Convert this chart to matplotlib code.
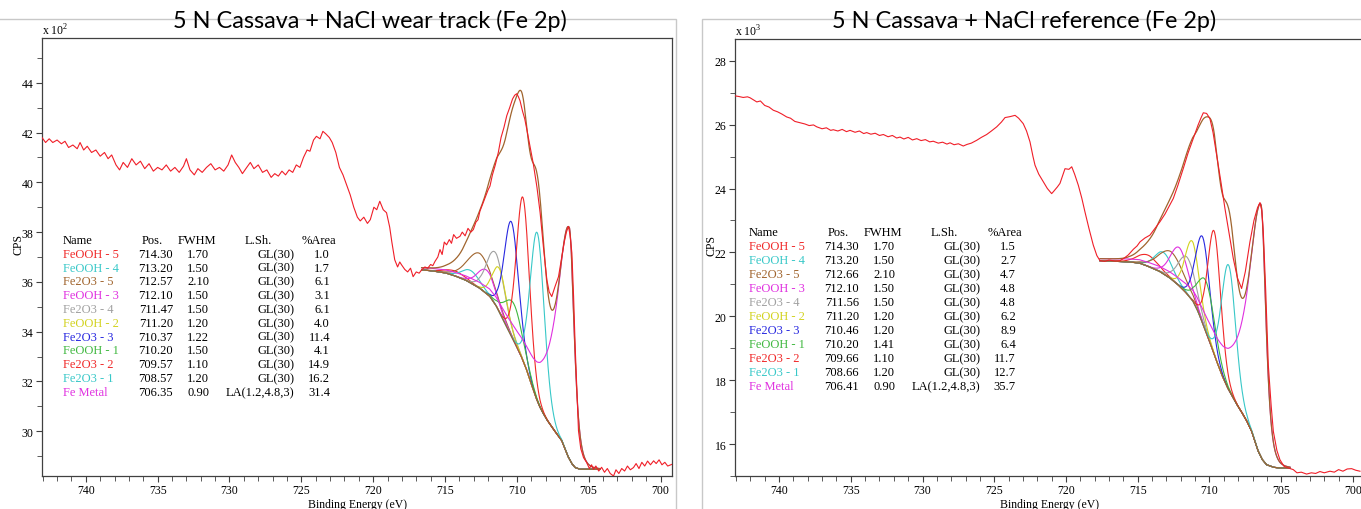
import numpy as np
import matplotlib
matplotlib.use("Agg")
import matplotlib.pyplot as plt
from matplotlib.patches import Rectangle
from matplotlib.ticker import MultipleLocator

plt.rcParams["font.family"] = ["Liberation Serif", "DejaVu Serif"]
plt.rcParams["mathtext.fontset"] = "custom"
plt.rcParams["mathtext.rm"] = "Liberation Serif"

W, H = 1361, 510

# --- fit table (same names / colours in both panels)
names = ["FeOOH - 5", "FeOOH - 4", "Fe2O3 - 5", "FeOOH - 3", "Fe2O3 - 4", "FeOOH - 2",
         "Fe2O3 - 3", "FeOOH - 1", "Fe2O3 - 2", "Fe2O3 - 1", "Fe Metal"]
colors = ["#F02828", "#38C8C8", "#A0642D", "#E030E0", "#A0A0A0", "#D2D21E",
          "#2828E0", "#40B840", "#F02828", "#38C8C8", "#E030E0"]
line_shapes = ["GL(30)"] * 10 + ["LA(1.2,4.8,3)"]

wear_pos = [714.30, 713.20, 712.57, 712.10, 711.47, 711.20, 710.37, 710.20, 709.57, 708.57, 706.35]
wear_fwhm = [1.70, 1.50, 2.10, 1.50, 1.50, 1.20, 1.22, 1.50, 1.10, 1.20, 0.90]
wear_area = [1.0, 1.7, 6.1, 3.1, 6.1, 4.0, 11.4, 4.1, 14.9, 16.2, 31.4]
# peak heights above background (x 10^2 CPS)
wear_height = [0.2, 0.5, 1.4, 0.95, 2.1, 1.75, 4.6, 1.5, 6.55, 6.75, 9.3]

ref_pos = [714.30, 713.20, 712.66, 712.10, 711.56, 711.20, 710.46, 710.20, 709.66, 708.66, 706.41]
ref_fwhm = [1.70, 1.50, 2.10, 1.50, 1.50, 1.20, 1.20, 1.41, 1.10, 1.20, 0.90]
ref_area = [1.5, 2.7, 4.7, 4.8, 4.8, 6.2, 8.9, 6.4, 11.7, 12.7, 35.7]
# x 10^3 CPS
ref_height = [0.35, 0.67, 0.85, 1.2, 1.15, 1.85, 2.7, 1.6, 3.85, 3.9, 7.9]

# Fe metal asymmetric shape: widths and exponents (low BE side, high BE side)
metal_width = (1.4, 2.0)
metal_power = (2.5, 1.0)

wear_be = [743.05, 742.8, 742.55, 742.3, 742.0, 741.7, 741.45, 741.2, 740.9, 740.6, 740.4, 740.15,
           739.9, 739.6, 739.3, 739.0, 738.7, 738.45, 738.2, 737.9, 737.65, 737.4, 737.1, 736.8,
           736.5, 736.2, 735.9, 735.6, 735.3, 735.0, 734.7, 734.4, 734.1, 733.8, 733.5, 733.2,
           733.0, 732.75, 732.45, 732.2, 731.9, 731.6, 731.3, 731.0, 730.7, 730.4, 730.1, 729.85,
           729.6, 729.35, 729.1, 728.8, 728.55, 728.3, 728.0, 727.7, 727.4, 727.1, 726.85, 726.6,
           726.35, 726.1, 725.85, 725.6, 725.35, 725.1, 724.85, 724.6, 724.4, 724.15, 723.95, 723.7,
           723.5, 723.3, 723.05, 722.85, 722.6, 722.35, 722.1, 721.85, 721.6, 721.35, 721.1, 720.9,
           720.65, 720.4, 720.2, 719.95, 719.75, 719.54, 719.3, 719.07, 718.85, 718.7, 718.5, 718.3,
           718.15, 718.03, 717.8, 717.6, 717.4, 717.22, 717.0, 716.8, 716.63, 716.4, 716.2, 716.0,
           715.85, 715.7, 715.5, 715.35, 715.2, 715.05, 714.89, 714.7, 714.55, 714.4, 714.2, 713.96,
           713.8, 713.6, 713.4, 713.2, 713.03, 712.85, 712.7, 712.57, 712.4, 712.2, 712.0, 711.87,
           711.7, 711.5, 711.29, 711.1, 710.9, 710.7, 710.5, 710.3, 710.15, 710.01, 709.9, 709.78,
           709.6, 709.45, 709.31, 709.1, 708.85, 708.6, 708.38, 708.15, 707.91, 707.75, 707.57, 707.35,
           707.1, 706.9, 706.7, 706.55, 706.41, 706.3, 706.17, 706.05, 705.94, 705.82, 705.71, 705.55,
           705.36, 705.15, 704.95, 704.8, 704.67, 704.5, 704.3, 704.1, 703.9, 703.7, 703.5, 703.27,
           703.1, 702.9, 702.7, 702.5, 702.3, 702.1, 701.88, 701.7, 701.5, 701.3, 701.1, 700.9,
           700.7, 700.48, 700.3, 700.1, 699.9, 699.7, 699.5, 699.2]
wear_cps = [41.8, 41.6, 41.75, 41.6, 41.7, 41.55, 41.65, 41.4, 41.5, 41.35, 41.6, 41.3,
            41.45, 41.2, 41.3, 41.05, 41.2, 40.95, 41.1, 40.7, 40.5, 40.8, 40.6, 40.95,
            40.7, 40.85, 40.55, 40.75, 40.45, 40.6, 40.5, 40.7, 40.45, 40.6, 40.4, 40.65,
            40.95, 40.5, 40.3, 40.55, 40.4, 40.6, 40.75, 40.5, 40.6, 40.45, 40.7, 41.1,
            40.8, 40.6, 40.35, 40.6, 40.8, 40.55, 40.7, 40.4, 40.5, 40.2, 40.35, 40.25,
            40.45, 40.3, 40.5, 40.4, 40.7, 40.6, 41.0, 41.3, 41.25, 41.7, 41.85, 41.75,
            42.05, 41.95, 41.8, 41.6, 41.2, 40.6, 40.3, 39.9, 39.5, 39.0, 38.6, 38.45,
            38.6, 38.35, 38.5, 39.0, 38.9, 39.24, 38.9, 38.78, 38.2, 37.6, 36.89, 36.6,
            36.8, 36.69, 36.5, 36.4, 36.55, 36.21, 36.4, 36.35, 36.48, 36.6, 36.55, 36.7,
            36.65, 36.82, 37.0, 37.3, 37.1, 37.6, 37.49, 37.7, 37.55, 37.9, 37.75, 37.83,
            38.0, 37.85, 38.15, 38.0, 38.1, 38.4, 38.5, 38.84, 39.1, 39.4, 39.7, 39.85,
            40.3, 40.7, 41.2, 41.8, 42.2, 42.68, 43.0, 43.35, 43.5, 43.56, 43.45, 43.28,
            42.85, 42.55, 42.14, 41.5, 40.73, 39.8, 38.78, 37.4, 36.08, 35.6, 35.41, 35.8,
            36.21, 36.9, 37.6, 38.0, 38.23, 37.9, 37.16, 35.4, 33.39, 31.6, 30.02, 29.3,
            28.94, 28.75, 28.5, 28.65, 28.47, 28.6, 28.4, 28.55, 28.35, 28.5, 28.3, 28.2,
            28.45, 28.3, 28.5, 28.4, 28.6, 28.45, 28.54, 28.7, 28.5, 28.75, 28.6, 28.8,
            28.65, 28.81, 28.7, 28.85, 28.65, 28.75, 28.6, 28.67]

ref_be = [743.07, 742.8, 742.5, 742.2, 742.02, 741.8, 741.55, 741.3, 741.0, 740.7, 740.4, 740.1,
          739.8, 739.47, 739.2, 738.9, 738.54, 738.2, 737.9, 737.6, 737.37, 737.0, 736.7, 736.4,
          736.22, 735.9, 735.6, 735.3, 735.05, 734.7, 734.4, 734.1, 733.89, 733.6, 733.3, 733.0,
          732.73, 732.4, 732.1, 731.8, 731.57, 731.3, 731.0, 730.7, 730.4, 730.1, 729.8, 729.5,
          729.25, 728.9, 728.6, 728.3, 728.08, 727.8, 727.5, 727.16, 726.9, 726.6, 726.22, 725.9,
          725.53, 725.2, 724.83, 724.5, 724.25, 723.9, 723.55, 723.3, 722.98, 722.75, 722.51, 722.3,
          722.16, 721.9, 721.58, 721.3, 721.0, 720.88, 720.6, 720.42, 720.2, 720.07, 719.8, 719.6,
          719.4, 719.14, 718.9, 718.68, 718.4, 718.1, 717.85, 717.63, 717.3, 717.0, 716.6, 716.24,
          715.95, 715.66, 715.3, 715.05, 714.84, 714.5, 714.15, 713.8, 713.45, 713.1, 712.8, 712.52,
          712.2, 711.83, 711.5, 711.13, 710.8, 710.6, 710.43, 710.2, 709.97, 709.75, 709.5, 709.2,
          708.92, 708.6, 708.34, 708.05, 707.76, 707.5, 707.18, 706.9, 706.65, 706.48, 706.35, 706.25,
          706.08, 705.9, 705.7, 705.55, 705.3, 705.09, 704.8, 704.5, 704.16, 703.9, 703.6, 703.23,
          702.9, 702.6, 702.3, 702.0, 701.6, 701.3, 701.0, 700.7, 700.4, 700.09, 699.8, 699.51]
ref_cps = [26.9, 26.88, 26.85, 26.87, 26.84, 26.78, 26.71, 26.74, 26.6, 26.55, 26.45, 26.4,
           26.33, 26.24, 26.2, 26.1, 26.06, 26.02, 25.97, 25.99, 25.93, 25.87, 25.9, 25.82,
           25.84, 25.8, 25.85, 25.78, 25.82, 25.76, 25.8, 25.72, 25.75, 25.7, 25.73, 25.66,
           25.69, 25.62, 25.66, 25.58, 25.61, 25.55, 25.6, 25.52, 25.56, 25.5, 25.53, 25.46,
           25.48, 25.42, 25.45, 25.39, 25.43, 25.37, 25.4, 25.33, 25.38, 25.42, 25.51, 25.6,
           25.69, 25.8, 25.93, 26.08, 26.22, 26.25, 26.29, 26.2, 26.03, 25.8, 25.46, 25.0,
           24.73, 24.45, 24.21, 24.0, 23.84, 23.9, 24.05, 24.16, 24.45, 24.62, 24.6, 24.68,
           24.45, 24.1, 23.7, 23.27, 22.75, 22.23, 21.9, 21.74, 21.72, 21.76, 21.73, 21.74,
           21.82, 21.92, 22.1, 22.2, 22.33, 22.45, 22.54, 22.75, 22.96, 23.2, 23.45, 23.69,
           24.1, 24.62, 25.1, 25.56, 25.98, 26.2, 26.37, 26.35, 26.19, 25.75, 25.04, 24.2,
           23.37, 22.5, 21.81, 21.2, 20.87, 21.4, 22.33, 23.0, 23.4, 23.56, 23.3, 22.65,
           20.8, 18.48, 17.2, 16.4, 15.8, 15.51, 15.3, 15.25, 15.2, 15.1, 15.12, 15.06,
           15.1, 15.08, 15.14, 15.1, 15.15, 15.12, 15.2, 15.15, 15.22, 15.23, 15.18, 15.15]

# Shirley backgrounds
wear_bg_be = [716.63, 716.0, 715.4, 714.89, 714.2, 713.49, 712.57, 711.87, 711.4, 710.94, 710.5,
              710.01, 709.65, 709.31, 709.05, 708.85, 708.6, 708.38, 708.1, 707.8, 707.5, 707.22,
              706.87, 706.65, 706.41, 706.15, 705.94, 705.59, 704.2]
wear_bg_cps = [36.48, 36.45, 36.4, 36.35, 36.22, 36.05, 35.74, 35.41, 35.0, 34.46, 33.95,
               33.39, 32.95, 32.45, 32.0, 31.65, 31.25, 30.95, 30.65, 30.36, 30.12, 29.89,
               29.62, 29.3, 28.95, 28.68, 28.54, 28.47, 28.47]
ref_bg_be = [717.63, 716.5, 715.5, 714.84, 714.2, 713.45, 712.7, 712.06, 711.6, 711.13, 710.8,
             710.43, 710.1, 709.74, 709.4, 709.04, 708.7, 708.34, 708.0, 707.65, 707.35, 707.06,
             706.8, 706.6, 706.3, 706.01, 705.5, 705.09, 704.39]
ref_bg_cps = [21.74, 21.72, 21.7, 21.66, 21.55, 21.4, 21.18, 20.93, 20.72, 20.46, 20.15,
              19.73, 19.33, 18.9, 18.47, 18.06, 17.73, 17.44, 17.17, 16.92, 16.68, 16.4,
              16.05, 15.77, 15.5, 15.35, 15.27, 15.25, 15.25]


def fx(px):
    return px / W


def fy(py):
    return 1 - py / H


def gl(x, pos, fwhm, h, m=0.3):
    t = (x - pos) ** 2 / fwhm ** 2
    return h * np.exp(-4 * np.log(2) * (1 - m) * t) / (1 + 4 * m * t)


def la(x, pos, h):
    hi = x >= pos
    w = np.where(hi, metal_width[1], metal_width[0])
    p = np.where(hi, metal_power[1], metal_power[0])
    return h / (1 + 4 * (x - pos) ** 2 / w ** 2) ** p


def draw_panel(ax, be, cps, bg_be, bg_cps, pos, fwhm, height, xlim, ylim, power):
    bg_be = np.array(bg_be)[::-1]
    bg_cps = np.array(bg_cps)[::-1]
    x = np.linspace(bg_be[0], bg_be[-1], 800)
    bg = np.interp(x, bg_be, bg_cps)
    total = bg.copy()
    for i in range(len(pos)):
        if line_shapes[i].startswith("LA"):
            comp = la(x, pos[i], height[i])
        else:
            comp = gl(x, pos[i], fwhm[i], height[i])
        total += comp
        ax.plot(x, bg + comp, color=colors[i], lw=0.8, zorder=2)
    ax.plot(x, bg, color="#A0642D", lw=0.8, zorder=2)
    ax.plot(x, total, color="#A0642D", lw=0.9, zorder=3)
    ax.plot(be, cps, color="#F01E28", lw=0.8, zorder=4)

    ax.set_xlim(*xlim)
    ax.set_ylim(*ylim)
    ax.xaxis.set_major_locator(MultipleLocator(5))
    ax.xaxis.set_minor_locator(MultipleLocator(1))
    ax.yaxis.set_major_locator(MultipleLocator(2))
    ax.yaxis.set_minor_locator(MultipleLocator(1))
    ax.tick_params(which="both", direction="out", color="#404040", labelsize=8.5, pad=2)
    ax.tick_params(which="major", length=4)
    ax.tick_params(which="minor", length=3.5)
    for s in ax.spines.values():
        s.set_color("#404040")
        s.set_linewidth(0.9)
    ax.set_xlabel("Binding Energy (eV)", fontsize=8.5, labelpad=1)
    ax.set_ylabel("CPS", fontsize=8.5)
    ax.yaxis.set_label_coords(-0.028, 0.53)
    ax.text(0, 1.002, "x 10$^{%d}$" % power, transform=ax.transAxes, fontsize=8.5,
            ha="left", va="bottom")


def draw_table(x0, y0, dy, pos, fwhm, area):
    fs = 9
    fig.text(fx(x0), fy(y0), "Name", fontsize=fs, va="center")
    fig.text(fx(x0 + 79), fy(y0), "Pos.", fontsize=fs, va="center")
    fig.text(fx(x0 + 115), fy(y0), "FWHM", fontsize=fs, va="center")
    fig.text(fx(x0 + 182), fy(y0), "L.Sh.", fontsize=fs, va="center")
    fig.text(fx(x0 + 239), fy(y0), "%Area", fontsize=fs, va="center")
    for i in range(len(names)):
        y = y0 + dy * (i + 1)
        fig.text(fx(x0), fy(y), names[i], color=colors[i], fontsize=fs, va="center")
        fig.text(fx(x0 + 110), fy(y), f"{pos[i]:.2f}", fontsize=fs, va="center", ha="right")
        fig.text(fx(x0 + 146), fy(y), f"{fwhm[i]:.2f}", fontsize=fs, va="center", ha="right")
        fig.text(fx(x0 + 231), fy(y), line_shapes[i], fontsize=fs, va="center", ha="right")
        fig.text(fx(x0 + 267), fy(y), f"{area[i]:.1f}", fontsize=fs, va="center", ha="right")


fig = plt.figure(figsize=(W / 100, H / 100), dpi=100)

# grey panel frames
fig.add_artist(Rectangle((fx(-5), fy(520)), fx(681), fy(20) - fy(520), transform=fig.transFigure,
                         fill=False, edgecolor="#C8C8C8", lw=1))
fig.add_artist(Rectangle((fx(702), fy(520)), fx(700), fy(20) - fy(520), transform=fig.transFigure,
                         fill=False, edgecolor="#C8C8C8", lw=1))

ax1 = fig.add_axes([fx(42), fy(477), fx(672.3 - 42), fy(39) - fy(477)])
draw_panel(ax1, wear_be, wear_cps, wear_bg_be, wear_bg_cps, wear_pos, wear_fwhm, wear_height,
           (743.05, 699.18), (28.2, 45.8), 2)
ax2 = fig.add_axes([fx(735), fy(477), fx(1365 - 735), fy(40) - fy(477)])
draw_panel(ax2, ref_be, ref_cps, ref_bg_be, ref_bg_cps, ref_pos, ref_fwhm, ref_height,
           (743.07, 699.16), (15.0, 28.68), 3)

draw_table(63, 241, 13.8, wear_pos, wear_fwhm, wear_area)
draw_table(749, 233, 14.0, ref_pos, ref_fwhm, ref_area)

fig.text(fx(370), fy(21), "5 N Cassava + NaCl wear track (Fe 2p)", fontsize=16.8,
         family=["Lato", "DejaVu Sans"], ha="center", va="center")
fig.text(fx(1024), fy(21), "5 N Cassava + NaCl reference (Fe 2p)", fontsize=16.8,
         family=["Lato", "DejaVu Sans"], ha="center", va="center")

fig.savefig("out.png", dpi=100)
